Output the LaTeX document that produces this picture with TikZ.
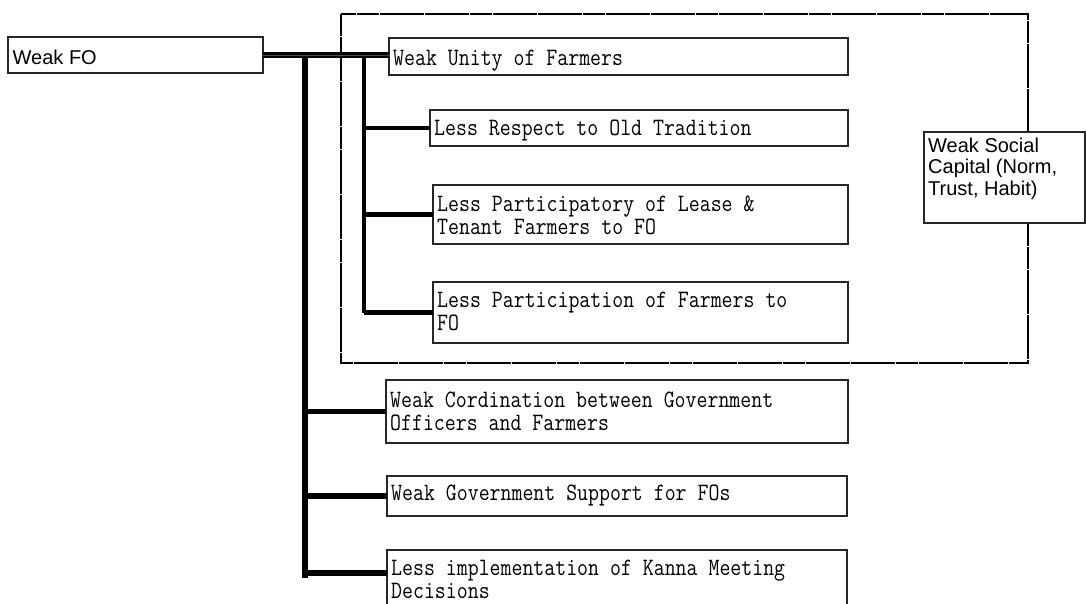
\documentclass[tikz,border=0pt]{standalone}
\usepackage{fontspec}
\usepackage{graphicx}
\newfontfamily\gothicfont{Liberation Sans}
\usetikzlibrary{calc}

% narrow serif typewriter text, lines separated by \cr
\newcommand{\minchotext}[1]{\scalebox{0.85}[1]{\fontsize{25}{23}\selectfont\ttfamily\lineskiplimit=-100pt\vtop{\halign{##\hfil\cr#1\crcr}}}}
% sans text, lines separated by \cr
\newcommand{\gothictext}[1]{{\fontsize{20}{21.7}\selectfont\gothicfont\lineskiplimit=-100pt\vtop{\halign{##\hfil\cr#1\crcr}}}}

\tikzset{
  box/.style={draw=black!85, line width=1.3pt, fill=white, inner sep=0pt,
              outer sep=0pt, rectangle, anchor=north west},
  txt/.style={inner sep=0pt, anchor=base west},
  trunk/.style={draw=black, line width=5.5pt},
  subtrunk/.style={draw=black, line width=4.2pt},
  branch/.style={draw=black, line width=4.2pt},
  mainlink/.style={draw=black, line width=2.1pt, double=black!70, double distance=0.9pt},
  frame/.style={draw=black, line width=2.6pt, dash pattern=on 22pt off 0.6pt}
}

\begin{document}
\begin{tikzpicture}[x=1pt, y=-1pt]
\useasboundingbox (0,0) rectangle (1086,603);

% dashed frame around the social-capital group
\draw[frame] (341,14) rectangle (1028,363);

% boxes
\node[box, minimum width=255pt, minimum height=36pt] (fo) at (8,37) {};
\node[box, minimum width=459pt, minimum height=37pt] (unity) at (389,38) {};
\node[box, minimum width=418pt, minimum height=36pt] (respect) at (430,110) {};
\node[box, minimum width=415pt, minimum height=59pt] (lessee) at (433,185) {};
\node[box, minimum width=415pt, minimum height=61pt] (partic) at (433,282) {};
\node[box, minimum width=462pt, minimum height=63pt] (coord) at (386,380) {};
\node[box, minimum width=460pt, minimum height=40pt] (govt) at (387,476) {};
\node[box, minimum width=460pt, minimum height=72pt] (kanna) at (387,550) {};
\node[box, minimum width=161pt, minimum height=91pt] (social) at (924,132) {};

% texts
\node[txt] (fot) at ($(fo.north west)+(4.5,27)$) {\gothictext{Weak FO}};
\node[txt] (unityt) at ($(unity.north west)+(4,27)$) {\minchotext{Weak Unity of Farmers}};
\node[txt] (respectt) at ($(respect.north west)+(4,25)$) {\minchotext{Less Respect to Old Tradition}};
\node[txt] (lesseet) at ($(lessee.north west)+(4,26)$) {\minchotext{Less Participatory of Lease \&\cr Tenant Farmers to FO}};
\node[txt] (partict) at ($(partic.north west)+(4,25)$) {\minchotext{Less Participation of Farmers to\cr FO}};
\node[txt] (coordt) at ($(coord.north west)+(4,27)$) {\minchotext{Weak Cordination between Government\cr Officers and Farmers}};
\node[txt] (govtt) at ($(govt.north west)+(4,24)$) {\minchotext{Weak Government Support for FOs}};
\node[txt] (kannat) at ($(kanna.north west)+(4,25)$) {\minchotext{Less implementation of Kanna Meeting\cr Decisions}};
\node[txt] (socialt) at ($(social.north west)+(4,20)$) {\gothictext{Weak Social\cr Capital (Norm,\cr Trust, Habit)}};

% trunk lines
\coordinate (outertop) at (305,55);
\coordinate (outerend) at (305,578);
\coordinate (innertop) at (364,55);
\coordinate (innerend) at (364,313);
\coordinate (kannain) at ($(kanna.north west)+(0,23)$);

\draw[trunk] (outertop) -- (outerend);
\draw[subtrunk] (innertop) -- (innerend);
\draw[mainlink] (fo.east) -- (fo.east -| unity.west);

% branches
\draw[branch] (innertop |- respect.west) -- (respect.west);
\draw[branch] (innertop |- lessee.west) -- (lessee.west);
\draw[branch] (innertop |- partic.west) -- (partic.west);
\draw[branch, line width=5.5pt] (outertop |- coord.west) -- (coord.west);
\draw[branch, line width=5.5pt] (outertop |- govt.west) -- (govt.west);
\draw[branch, line width=5.5pt] (outertop |- kannain) -- (kannain);
\end{tikzpicture}
\end{document}
